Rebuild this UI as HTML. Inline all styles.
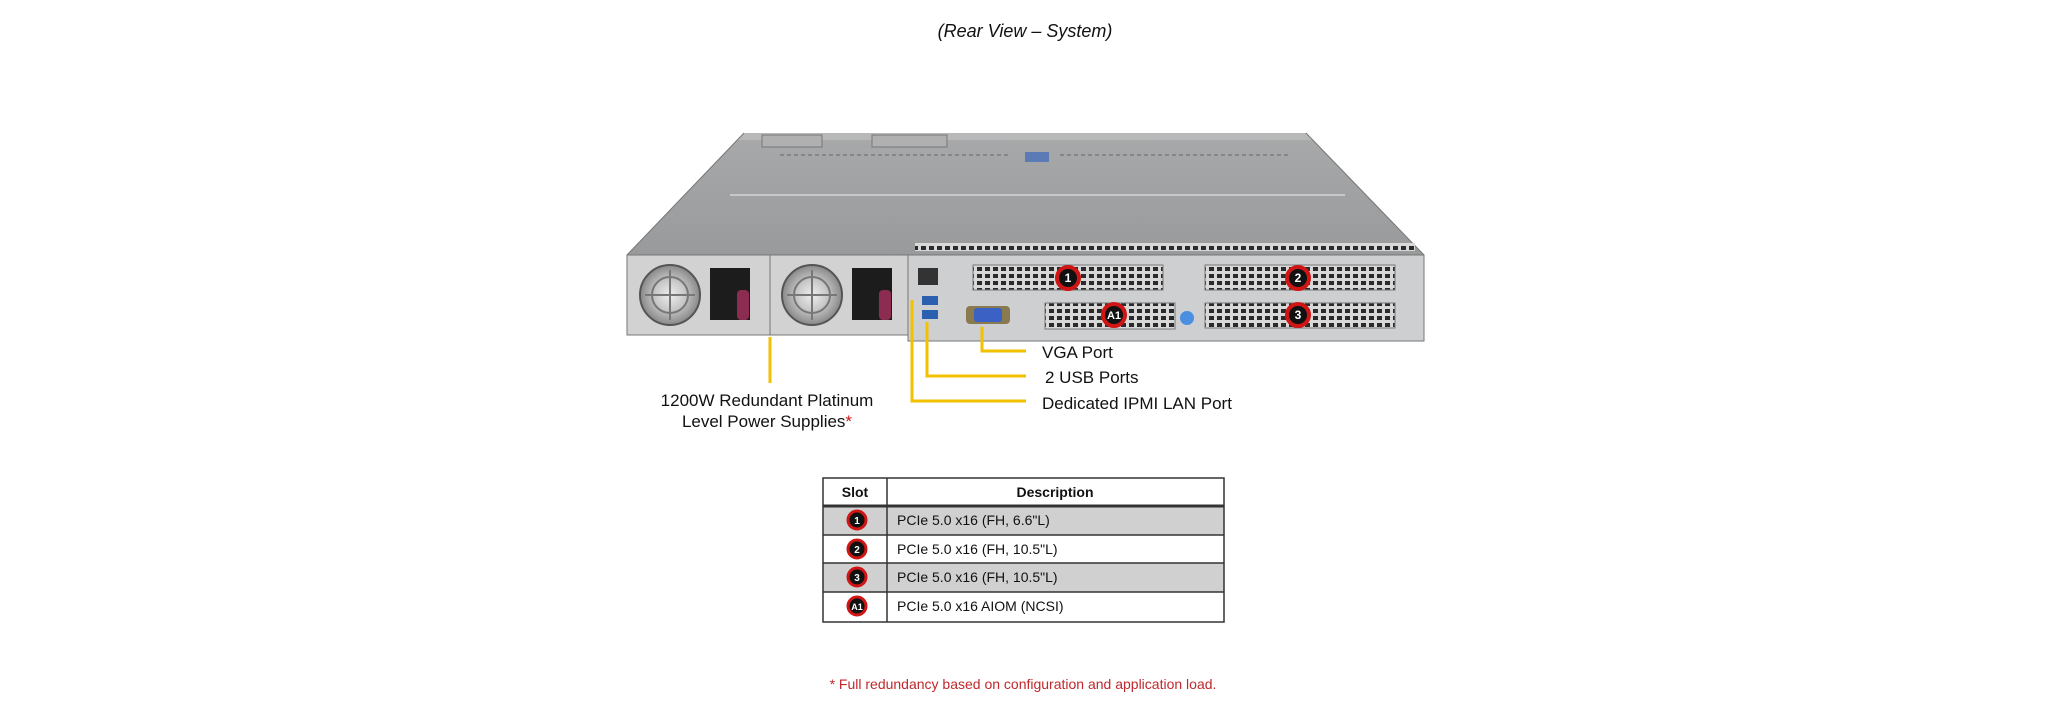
<!DOCTYPE html>
<html><head><meta charset="utf-8"><style>
html,body{margin:0;padding:0;background:#fff;}
body{width:2048px;height:700px;position:relative;overflow:hidden;font-family:"Liberation Sans",sans-serif;}
</style></head><body>
<svg width="2048" height="700" viewBox="0 0 2048 700" xmlns="http://www.w3.org/2000/svg" font-family="Liberation Sans, sans-serif">
<defs>
<pattern id="vent" width="8" height="7" patternUnits="userSpaceOnUse"><rect width="8" height="7" fill="#d8d8d8"/><rect x="1" y="1" width="5" height="4" fill="#2a2a2a"/></pattern>
<radialGradient id="fan"><stop offset="0" stop-color="#eee"/><stop offset="0.5" stop-color="#c8c8c8"/><stop offset="1" stop-color="#888"/></radialGradient>
<linearGradient id="top" x1="0" y1="0" x2="0" y2="1"><stop offset="0" stop-color="#a8a9aa"/><stop offset="1" stop-color="#989a9b"/></linearGradient>
</defs>
<text x="1025" y="37" font-size="18" font-style="italic" text-anchor="middle" fill="#111">(Rear View – System)</text>
<polygon points="744,133 1306,133 1424,255 627,255" fill="url(#top)"/>
<polygon points="744,133 1306,133 1312,140 738,140" fill="#b8b8b8"/>
<line x1="744" y1="133" x2="627" y2="255" stroke="#777"/>
<line x1="1306" y1="133" x2="1424" y2="255" stroke="#777"/>
<rect x="762" y="135" width="60" height="12" fill="#b0b0b0" stroke="#777"/>
<rect x="872" y="135" width="75" height="12" fill="#b0b0b0" stroke="#777"/>
<rect x="1025" y="152" width="24" height="10" fill="#5a7bb5"/>
<line x1="780" y1="155" x2="1010" y2="155" stroke="#666" stroke-dasharray="4,3"/>
<line x1="1060" y1="155" x2="1290" y2="155" stroke="#666" stroke-dasharray="4,3"/>
<line x1="730" y1="195" x2="1345" y2="195" stroke="#c8c8c8" stroke-width="2"/>
<rect x="915" y="243" width="500" height="8" fill="url(#vent)"/>
<rect x="627" y="255" width="143" height="80" fill="#d2d2d2" stroke="#777"/>
<rect x="770" y="255" width="138" height="80" fill="#d2d2d2" stroke="#777"/>
<g stroke="#555" stroke-width="2" fill="url(#fan)">
<circle cx="670" cy="295" r="30"/><circle cx="812" cy="295" r="30"/></g>
<g stroke="#777" stroke-width="2" fill="none">
<circle cx="670" cy="295" r="18"/><circle cx="812" cy="295" r="18"/>
<line x1="645" y1="295" x2="695" y2="295"/><line x1="670" y1="270" x2="670" y2="320"/>
<line x1="787" y1="295" x2="837" y2="295"/><line x1="812" y1="270" x2="812" y2="320"/></g>
<rect x="710" y="268" width="40" height="52" fill="#1c1c1c"/>
<rect x="852" y="268" width="40" height="52" fill="#1c1c1c"/>
<rect x="737" y="290" width="12" height="30" rx="4" fill="#8b2c50"/>
<rect x="879" y="290" width="12" height="30" rx="4" fill="#8b2c50"/>
<rect x="908" y="255" width="516" height="86" fill="#cdcfd0" stroke="#777"/>
<rect x="973" y="265" width="190" height="25" fill="url(#vent)" stroke="#777"/>
<rect x="1205" y="265" width="190" height="25" fill="url(#vent)" stroke="#777"/>
<rect x="1045" y="303" width="130" height="26" fill="url(#vent)" stroke="#777"/>
<rect x="1205" y="303" width="190" height="25" fill="url(#vent)" stroke="#777"/>
<rect x="918" y="268" width="20" height="17" fill="#333"/>
<rect x="922" y="296" width="16" height="9" fill="#2b5fb0"/>
<rect x="922" y="310" width="16" height="9" fill="#2b5fb0"/>
<rect x="966" y="306" width="44" height="18" rx="4" fill="#8a7a50"/>
<rect x="974" y="308" width="28" height="14" rx="3" fill="#3b61c4"/>
<circle cx="1187" cy="318" r="7" fill="#4a8fe0"/>
<g font-weight="bold" font-size="12" text-anchor="middle" fill="#fff">
<circle cx="1068" cy="278" r="11" fill="#111" stroke="#d01515" stroke-width="4"/><text x="1068" y="282">1</text>
<circle cx="1298" cy="278" r="11" fill="#111" stroke="#d01515" stroke-width="4"/><text x="1298" y="282">2</text>
<circle cx="1114" cy="315" r="11" fill="#111" stroke="#d01515" stroke-width="4"/><text x="1114" y="319" font-size="11">A1</text>
<circle cx="1298" cy="315" r="11" fill="#111" stroke="#d01515" stroke-width="4"/><text x="1298" y="319">3</text>
</g>
<g stroke="#f2c200" stroke-width="3" fill="none">
<line x1="770" y1="337" x2="770" y2="383"/>
<polyline points="982,327 982,351 1026,351"/>
<polyline points="927,322 927,376 1026,376"/>
<polyline points="912,300 912,401 1026,401"/>
</g>
<g font-size="17" fill="#111">
<text x="1042" y="358">VGA Port</text>
<text x="1045" y="383">2 USB Ports</text>
<text x="1042" y="409">Dedicated IPMI  LAN Port</text>
<text x="767" y="406" text-anchor="middle">1200W Redundant  Platinum</text>
<text x="767" y="427" text-anchor="middle">Level Power Supplies<tspan fill="#d01515">*</tspan></text>
</g>
<rect x="823" y="506" width="401" height="29" fill="#d0d0d0"/>
<rect x="823" y="563" width="401" height="29" fill="#d0d0d0"/>
<g stroke="#333" stroke-width="1.5" fill="none">
<rect x="823" y="478" width="401" height="144"/>
<line x1="887" y1="478" x2="887" y2="622"/>
<line x1="823" y1="506" x2="1224" y2="506" stroke-width="3"/>
<line x1="823" y1="535" x2="1224" y2="535"/>
<line x1="823" y1="563" x2="1224" y2="563"/>
<line x1="823" y1="592" x2="1224" y2="592"/>
</g>
<g font-size="14" fill="#111">
<text x="855" y="497" text-anchor="middle" font-weight="bold">Slot</text>
<text x="1055" y="497" text-anchor="middle" font-weight="bold">Description</text>
<text x="897" y="525">PCIe 5.0 x16 (FH, 6.6"L)</text>
<text x="897" y="554">PCIe 5.0 x16 (FH, 10.5"L)</text>
<text x="897" y="582">PCIe 5.0 x16 (FH, 10.5"L)</text>
<text x="897" y="611">PCIe 5.0 x16 AIOM (NCSI)</text>
</g>
<g font-weight="bold" font-size="10" text-anchor="middle" fill="#fff">
<circle cx="857" cy="520" r="9" fill="#111" stroke="#d01515" stroke-width="3"/><text x="857" y="524">1</text>
<circle cx="857" cy="549" r="9" fill="#111" stroke="#d01515" stroke-width="3"/><text x="857" y="553">2</text>
<circle cx="857" cy="577" r="9" fill="#111" stroke="#d01515" stroke-width="3"/><text x="857" y="581">3</text>
<circle cx="857" cy="606" r="9" fill="#111" stroke="#d01515" stroke-width="3"/><text x="857" y="610" font-size="9">A1</text>
</g>
<text x="1023" y="689" font-size="14" fill="#c0282d" text-anchor="middle">*  Full redundancy based on configuration  and application load.</text>
</svg>
</body></html>
